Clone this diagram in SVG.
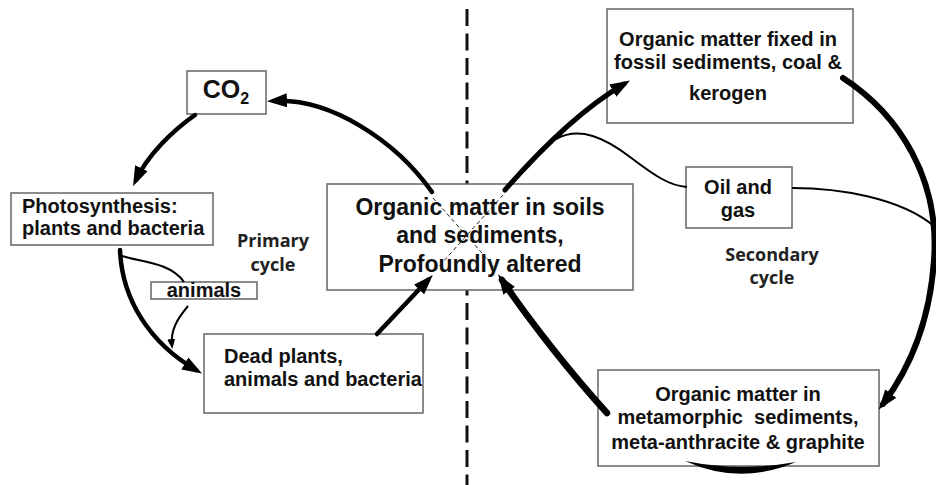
<svg xmlns="http://www.w3.org/2000/svg" width="936" height="485" viewBox="0 0 936 485">
<style>
.box{fill:#fff;stroke:#666;stroke-width:1.5}
.t{font-family:"Liberation Sans",Arial,sans-serif;font-weight:bold;font-size:20px;fill:#111}
.big{font-size:23px}
.co{font-size:25px}
.c{font-family:"Open Sans",Lato,sans-serif;font-weight:bold;font-size:18px;fill:#222}
.thick{fill:none;stroke:#000;stroke-linecap:round}
.thin{fill:none;stroke:#000;stroke-width:2}
.dash{fill:none;stroke:#222;stroke-width:1;stroke-dasharray:4 3}
</style>
<defs>
<marker id="ah" markerUnits="userSpaceOnUse" markerWidth="20" markerHeight="14" refX="13" refY="7" orient="auto" viewBox="0 0 20 14">
<path d="M0,0 L20,7 L0,14 Z" fill="#000"/>
</marker>
<marker id="ahs" markerUnits="userSpaceOnUse" markerWidth="10" markerHeight="8" refX="7" refY="4" orient="auto" viewBox="0 0 10 8">
<path d="M0,0 L10,4 L0,8 Z" fill="#000"/>
</marker>
</defs>
<rect width="936" height="485" fill="#fff"/>
<line x1="467" y1="9" x2="467" y2="485" stroke="#111" stroke-width="3" stroke-dasharray="17 7.5"/>

<g id="co2">
<rect class="box" x="187" y="71" width="79" height="43"/>
<text class="t co" x="226" y="98" text-anchor="middle">CO<tspan style="font-size:16px" dy="6">2</tspan></text>
</g>
<g id="photosynthesis">
<rect class="box" x="11" y="193" width="202" height="52"/>
<text class="t" x="22" y="213">Photosynthesis:</text>
<text class="t" x="22" y="235">plants and bacteria</text>
</g>
<g id="animals">
<rect class="box" x="151" y="282" width="106" height="17"/>
<text class="t" x="204" y="297" text-anchor="middle">animals</text>
</g>
<g id="dead">
<rect class="box" x="204" y="334" width="219" height="79"/>
<text class="t" x="224" y="363">Dead plants,</text>
<text class="t" x="224" y="386">animals and bacteria</text>
</g>
<g id="soils">
<rect class="box" x="327" y="184" width="306" height="106"/>
<text class="t big" x="480" y="215" text-anchor="middle">Organic matter in soils</text>
<text class="t big" x="480" y="243" text-anchor="middle">and sediments,</text>
<text class="t big" x="480" y="272" text-anchor="middle">Profoundly altered</text>
</g>
<g id="fossil">
<rect class="box" x="607" y="9" width="246" height="114"/>
<text class="t" x="728" y="46" text-anchor="middle">Organic matter fixed in</text>
<text class="t" x="728" y="69" text-anchor="middle">fossil sediments, coal &amp;</text>
<text class="t" x="728" y="100" text-anchor="middle">kerogen</text>
</g>
<g id="oilgas">
<rect class="box" x="686" y="167" width="106" height="61"/>
<text class="t" x="738" y="194" text-anchor="middle">Oil and</text>
<text class="t" x="738" y="217" text-anchor="middle">gas</text>
</g>
<g id="metamorphic">
<rect class="box" x="598" y="370" width="281" height="96"/>
<text class="t" x="738" y="401" text-anchor="middle">Organic matter in</text>
<text class="t" x="738" y="424" text-anchor="middle">metamorphic&#160; sediments,</text>
<text class="t" x="738" y="449" text-anchor="middle">meta-anthracite &amp; graphite</text>
</g>
<g id="labels">
<text class="c" x="273" y="247" text-anchor="middle">Primary</text>
<text class="c" x="273" y="271" text-anchor="middle">cycle</text>
<text class="c" x="772" y="261" text-anchor="middle">Secondary</text>
<text class="c" x="772" y="284" text-anchor="middle">cycle</text>
</g>

<g id="connectors">
<path class="thick" stroke-width="4.5" d="M195,115 C172,131 147,156 136,180" marker-end="url(#ah)"/>
<path class="thick" stroke-width="4.5" d="M432,192 C395,140 330,98 274,101" marker-end="url(#ah)"/>
<path class="thick" stroke-width="4.5" d="M120,250 C122,300 150,343 196,370" marker-end="url(#ah)"/>
<path class="thin" d="M122,256 C140,262 170,262 184,282"/>
<path class="thin" d="M188,306 C178,318 170,330 172,346" marker-end="url(#ahs)"/>
<path class="thick" stroke-width="4.5" d="M377,334 L428,280" marker-end="url(#ah)"/>
<path class="thick" stroke-width="5" d="M505,190 C540,150 580,110 624,84" marker-end="url(#ah)"/>
<path class="thin" d="M556,139 C580,126 605,138 630,157 C655,176 670,186 687,187"/>
<path class="thin" d="M792,188 C840,188 900,198 934,226"/>
<path class="thick" stroke-width="6" d="M843,78 C900,115 940,180 934,260 C930,320 910,368 883,404" marker-end="url(#ah)"/>
<path class="thick" stroke-width="6.5" d="M607,413 C575,378 530,322 502,280" marker-end="url(#ah)"/>
<path fill="#000" d="M685,461 Q740,486 796,462 Q740,472 685,461 Z"/>
<path class="dash" d="M433,198 L497,270"/>
<path class="dash" d="M503,195 L433,273"/>
</g>
</svg>
